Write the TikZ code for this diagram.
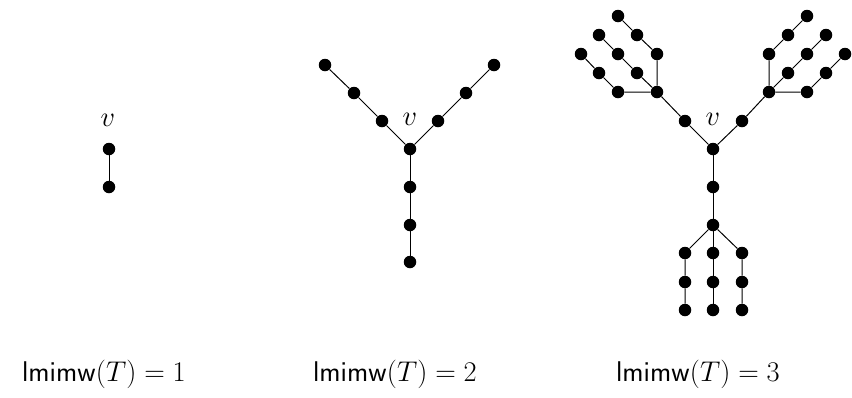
\documentclass[tikz,border=0pt]{standalone}
\usepackage{amsmath}
\newcommand{\bigtxt}[1]{\scalebox{1.146}{\fontsize{24.88}{30}\selectfont #1}}
\begin{document}
\begin{tikzpicture}[x=1pt,y=-1pt,
  dot/.style={circle,fill=black,draw=none,inner sep=0pt,minimum size=12.5pt},
  edge/.style={line width=1pt},
  lab/.style={inner sep=0pt},
  captext/.style={inner sep=0pt,anchor=base}]
\useasboundingbox (0,0) rectangle (852,397);
% Tree 1
\node[dot] (a0) at (109,149) {};
\node[dot] (a1) at (109,187) {};
\node[lab] (av) at (108,120) {\bigtxt{$v$}};
\draw[edge] (a0) -- (a1);
% Tree 2
\node[dot] (b0) at (410,149) {};
\node[dot] (bl1) at (382,121) {};
\node[dot] (bl2) at (354,93) {};
\node[dot] (bl3) at (325,65) {};
\node[dot] (br1) at (438,121) {};
\node[dot] (br2) at (466,93) {};
\node[dot] (br3) at (494,65) {};
\node[dot] (bd1) at (410,187) {};
\node[dot] (bd2) at (410,225) {};
\node[dot] (bd3) at (410,262) {};
\node[lab] (bv) at (410,119) {\bigtxt{$v$}};
\draw[edge] (b0) -- (bl1) -- (bl2) -- (bl3);
\draw[edge] (b0) -- (br1) -- (br2) -- (br3);
\draw[edge] (b0) -- (bd1) -- (bd2) -- (bd3);
% Tree 3
\node[dot] (c0) at (713,149) {};
\node[dot] (cl1) at (685,121) {};
\node[dot] (cl2) at (657,92) {};
\node[dot] (cr1) at (742,121) {};
\node[dot] (cr2) at (769,92) {};
\node[dot] (cd1) at (713,187) {};
\node[dot] (cd2) at (713,225) {};
\node[lab] (cv) at (713,119) {\bigtxt{$v$}};
\draw[edge] (c0) -- (cl1) -- (cl2);
\draw[edge] (c0) -- (cr1) -- (cr2);
\draw[edge] (c0) -- (cd1) -- (cd2);
% bottom broom
\foreach \n/\x in {p/685,q/713,r/742}{
  \node[dot] (\n1) at (\x,253) {};
  \node[dot] (\n2) at (\x,282) {};
  \node[dot] (\n3) at (\x,310) {};
  \draw[edge] (cd2) -- (\n1) -- (\n2) -- (\n3);
}
% left subtree
\node[dot] (la1) at (657,54) {};
\node[dot] (la2) at (637,35) {};
\node[dot] (la3) at (618,16) {};
\node[dot] (lb1) at (637,73) {};
\node[dot] (lb2) at (618,54) {};
\node[dot] (lb3) at (599,35) {};
\node[dot] (lc1) at (618,92) {};
\node[dot] (lc2) at (599,73) {};
\node[dot] (lc3) at (581,54) {};
\draw[edge] (cl2) -- (la1) -- (la2) -- (la3);
\draw[edge] (cl2) -- (lb1) -- (lb2) -- (lb3);
\draw[edge] (cl2) -- (lc1) -- (lc2) -- (lc3);
% right subtree
\node[dot] (ra1) at (769,54) {};
\node[dot] (ra2) at (788,35) {};
\node[dot] (ra3) at (807,16) {};
\node[dot] (rb1) at (788,73) {};
\node[dot] (rb2) at (807,54) {};
\node[dot] (rb3) at (826,35) {};
\node[dot] (rc1) at (807,92) {};
\node[dot] (rc2) at (826,73) {};
\node[dot] (rc3) at (845,54) {};
\draw[edge] (cr2) -- (ra1) -- (ra2) -- (ra3);
\draw[edge] (cr2) -- (rb1) -- (rb2) -- (rb3);
\draw[edge] (cr2) -- (rc1) -- (rc2) -- (rc3);
% captions
\node[captext] (t1) at (104,381) {\bigtxt{$\mathsf{lmimw}(T) = 1$}};
\node[captext] (t2) at (395,381) {\bigtxt{$\mathsf{lmimw}(T) = 2$}};
\node[captext] (t3) at (698,381) {\bigtxt{$\mathsf{lmimw}(T) = 3$}};
\end{tikzpicture}
\end{document}
